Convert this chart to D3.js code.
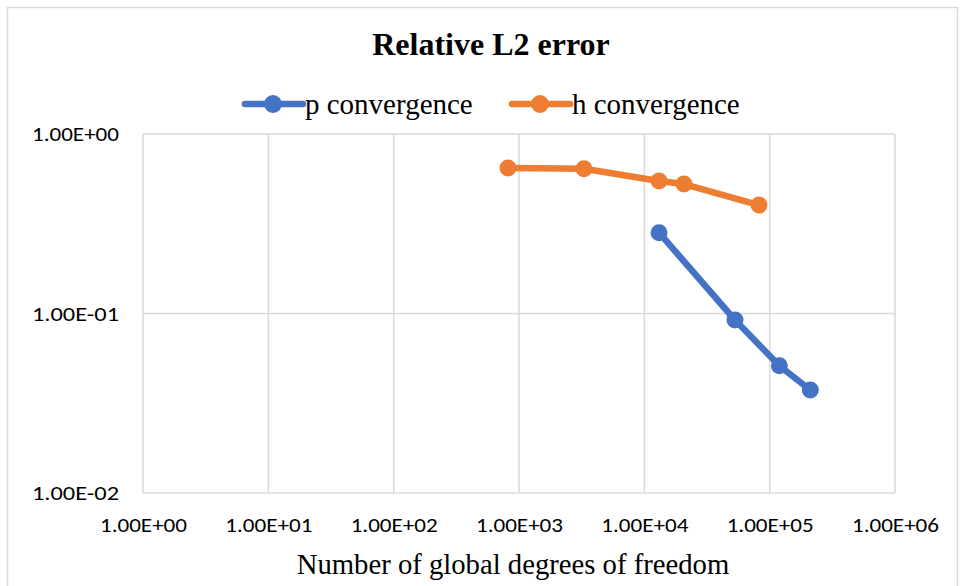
<!DOCTYPE html>
<html>
<head>
<meta charset="utf-8">
<script src="https://cdn.jsdelivr.net/npm/d3@7"></script>
<style>
  body { margin: 0; background: #fff; }
  svg { display: block; }
</style>
</head>
<body>
<div id="chart"></div>
<script>
// values
let seriesNames = ["p convergence", "h convergence"];
let seriesColors = ["#4472c4", "#ed7d31"];
let pDofs = [13100, 52900, 119500, 211000];
let pErrors = [0.282, 0.092, 0.0512, 0.0375];
let hDofs = [817, 3300, 13100, 20700, 82200];
let hErrors = [0.647, 0.640, 0.547, 0.526, 0.402];
let xTicks = [1e0, 1e1, 1e2, 1e3, 1e4, 1e5, 1e6];
let yTicks = [1e-2, 1e-1, 1e0];

let width = 965;
let height = 586;
let margin = ({top: 134, right: 70, bottom: 93, left: 143});

let svg = d3.select("#chart")
  .append("svg")
  .attr("width", width).attr("height", height);

// outer chart frame
svg.append("rect")
  .attr("x", 7.5).attr("y", 7.5)
  .attr("width", 950).attr("height", 600)
  .attr("fill", "#fff")
  .attr("stroke", "#d9d9d9")
  .attr("stroke-width", 1.5);

let xScale = d3.scaleLog()
  .domain([1e0, 1e6])
  .range([margin.left, width - margin.right]);
let yScale = d3.scaleLog()
  .domain([1e-2, 1e0])
  .range([height - margin.bottom, margin.top]);

function sci(v) {
  let e = Math.round(Math.log10(v));
  let s = e < 0 ? "-" : "+";
  return "1.00E" + s + String(Math.abs(e)).padStart(2, "0");
}

// gridlines
svg.append("g")
  .selectAll("line")
  .data(xTicks).enter()
  .append("line")
  .attr("x1", d => xScale(d)).attr("x2", d => xScale(d))
  .attr("y1", yScale(1e0)).attr("y2", yScale(1e-2))
  .attr("stroke", "#d9d9d9").attr("stroke-width", 1.5);

svg.append("g")
  .selectAll("line")
  .data(yTicks).enter()
  .append("line")
  .attr("x1", xScale(1e0)).attr("x2", xScale(1e6))
  .attr("y1", d => yScale(d)).attr("y2", d => yScale(d))
  .attr("stroke", "#d9d9d9").attr("stroke-width", 1.5);

// axes (labels only, lines come from the grid)
let xAxis = d3.axisBottom(xScale).tickValues(xTicks).tickFormat(sci).tickSize(0).tickPadding(0);
let yAxis = d3.axisLeft(yScale).tickValues(yTicks).tickFormat(sci).tickSize(0).tickPadding(0);

let gx = svg.append("g")
  .attr("transform", `translate(0,${height - margin.bottom + 24})`)
  .call(xAxis);
let gy = svg.append("g")
  .attr("transform", `translate(${margin.left - 24},0)`)
  .call(yAxis);

[gx, gy].forEach(g => {
  g.select(".domain").remove();
  g.selectAll("text")
    .attr("fill", "#000")
    .attr("textLength", 87)
    .attr("lengthAdjust", "spacingAndGlyphs")
    .style("font-family", "Carlito, Calibri, 'Liberation Sans', Arial, sans-serif")
    .style("font-size", "20.5px");
});

// series
let line = d3.line()
  .x(d => xScale(d[0]))
  .y(d => yScale(d[1]));

let series = [
  d3.zip(pDofs, pErrors),
  d3.zip(hDofs, hErrors)
];

series.forEach((pts, i) => {
  svg.append("path")
    .datum(pts)
    .attr("fill", "none")
    .attr("stroke", seriesColors[i])
    .attr("stroke-width", 6.5)
    .attr("stroke-linejoin", "round")
    .attr("d", line);
  svg.append("g")
    .selectAll("circle")
    .data(pts).enter()
    .append("circle")
    .attr("cx", d => xScale(d[0]))
    .attr("cy", d => yScale(d[1]))
    .attr("r", 8.5)
    .attr("fill", seriesColors[i]);
});

// title
svg.append("text")
  .attr("x", 491).attr("y", 55)
  .style("text-anchor", "middle")
  .style("font-family", "'Liberation Serif', 'Times New Roman', serif")
  .style("font-weight", "bold")
  .style("font-size", "32px")
  .text("Relative L2 error");

// legend
let legendX = [245, 512];
seriesNames.forEach((name, i) => {
  let g = svg.append("g").attr("transform", `translate(${legendX[i]},104)`);
  g.append("line")
    .attr("x1", 0).attr("x2", 58)
    .attr("stroke", seriesColors[i]).attr("stroke-width", 6.5)
    .attr("stroke-linecap", "round");
  g.append("circle").attr("cx", 28).attr("r", 9).attr("fill", seriesColors[i]);
  g.append("text")
    .attr("x", 60).attr("y", 10)
    .style("font-family", "'Liberation Serif', 'Times New Roman', serif")
    .style("font-size", "29px")
    .text(name);
});

// x axis title
svg.append("text")
  .attr("x", 513).attr("y", 574)
  .style("text-anchor", "middle")
  .style("font-family", "'Liberation Serif', 'Times New Roman', serif")
  .style("font-size", "28.7px")
  .text("Number of global degrees of freedom");
</script>
</body>
</html>
